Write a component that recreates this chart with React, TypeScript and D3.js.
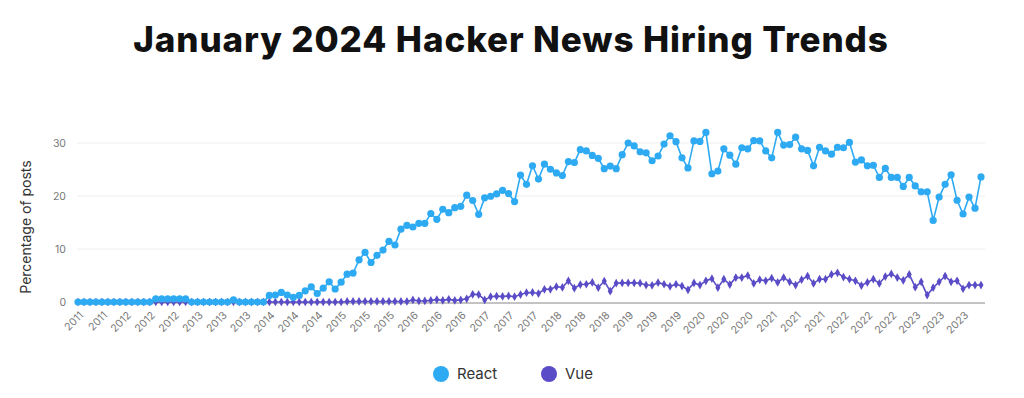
import React, { useEffect, useRef } from 'react';
import * as d3 from 'd3';

// Monthly "Who is hiring" threads, Jun 2011 .. Jan 2024
const months = d3.timeMonth.range(new Date(2011, 5, 1), new Date(2024, 1, 1));

const reactShare = [
  0, 0, 0, 0, 0, 0, 0, 0, 0, 0, 0, 0, 0,
  0.6, 0.6, 0.6, 0.6, 0.6, 0.6,
  0, 0, 0, 0, 0, 0, 0, 0.4, 0, 0, 0, 0, 0,
  1.25, 1.3, 1.8, 1.3, 0.9, 1.25, 2.1, 2.85, 1.6, 2.6,
  3.8, 2.45, 3.75, 5.25, 5.45, 7.95, 9.35, 7.45, 8.8, 9.8,
  11.45, 10.75, 13.75, 14.45, 14.15, 14.85, 14.85, 16.7, 15.6, 17.5,
  16.85, 17.8, 18.05, 20.15, 19.15, 16.55, 19.65, 19.95, 20.4, 21.05,
  20.45, 18.95, 23.95, 22.2, 25.7, 23.2, 26.0, 25.05, 24.35, 23.85,
  26.5, 26.3, 28.75, 28.5, 27.65, 27.1, 25.15, 25.65, 25.15, 27.8,
  30.0, 29.45, 28.35, 28.15, 26.65, 27.55, 29.8, 31.35, 30.25, 27.2,
  25.3, 30.4, 30.3, 32.0, 24.2, 24.7, 28.9, 27.7, 26.0, 29.1,
  28.9, 30.45, 30.4, 28.5, 27.2, 32.0, 29.6, 29.7, 31.1, 28.9,
  28.6, 25.7, 29.2, 28.5, 27.9, 29.2, 29.1, 30.1, 26.4, 26.8,
  25.7, 25.8, 23.5, 25.2, 23.5, 23.5, 21.8, 23.5, 21.9, 20.8,
  20.8, 15.4, 19.8, 22.2, 24.0, 19.2, 16.6, 19.8, 17.7, 23.6,
];

const vueShare = [
  0, 0, 0, 0, 0, 0, 0, 0, 0, 0, 0, 0, 0, 0, 0,
  0, 0, 0, 0, 0, 0, 0, 0, 0, 0, 0, 0, 0, 0, 0,
  0, 0, 0, 0, 0, 0, 0, 0, 0, 0, 0, 0, 0, 0, 0,
  0.1, 0.1, 0.1, 0.1, 0.1, 0.1, 0.1, 0.1, 0.1, 0.1, 0.1,
  0.4, 0.2, 0.2, 0.3, 0.45, 0.3, 0.5, 0.3, 0.4, 0.6,
  1.45, 1.4, 0.4, 1.0, 1.1, 1.05, 1.15, 1.0, 1.4, 1.75,
  1.8, 1.6, 2.4, 2.4, 2.9, 2.75, 4.0, 2.6, 3.3, 3.35,
  3.7, 2.7, 3.95, 2.05, 3.55, 3.6, 3.6, 3.6, 3.55, 3.2,
  3.15, 3.65, 3.35, 2.95, 3.35, 3.0, 2.3, 3.6, 3.2, 4.0,
  4.4, 2.7, 4.3, 3.3, 4.6, 4.6, 5.0, 3.5, 4.2, 4.0,
  4.5, 3.7, 4.6, 3.8, 3.2, 4.2, 4.9, 3.5, 4.3, 4.3,
  5.2, 5.5, 4.7, 4.3, 4.0, 3.1, 3.7, 4.3, 3.5, 4.8,
  5.3, 4.6, 4.1, 5.2, 2.8, 3.8, 1.3, 2.7, 3.8, 4.9,
  3.8, 4.0, 2.5, 3.2, 3.2, 3.2,
];

const yTicks = [0, 10, 20, 30];
const seriesNames = ['React', 'Vue'];
const seriesColors = ['#2eaaf3', '#5a4cc6'];

export default function App() {
  const svgRef = useRef<SVGSVGElement>(null);

  useEffect(() => {
    const width = 1024;
    const height = 398;
    const svg = d3.select(svgRef.current).attr('width', width).attr('height', height);
    svg.selectAll('*').remove();

    const font = 'Inter, "Open Sans", sans-serif';

    const x = d3.scalePoint<number>().domain(months.map((_, i) => i)).range([78, 981]);
    const y = d3.scaleLinear().domain([0, 33]).range([302, 302 - 33 * 5.3]);

    // Title
    svg.append('text').attr('x', 511).attr('y', 52).attr('text-anchor', 'middle')
      .attr('font-family', font).attr('font-weight', 800).attr('font-size', '35px')
      .attr('letter-spacing', '0.9px')
      .attr('fill', '#111').text('January 2024 Hacker News Hiring Trends');

    // Grid
    svg.append('g').selectAll('line').data(yTicks.filter(t => t > 0)).join('line')
      .attr('x1', 77).attr('x2', 985).attr('y1', d => y(d)).attr('y2', d => y(d))
      .attr('stroke', '#eeeeee').attr('stroke-width', 1);

    // Y ticks
    svg.append('g').selectAll('text').data(yTicks).join('text')
      .attr('x', 66).attr('y', d => y(d)).attr('dy', '0.35em').attr('text-anchor', 'end')
      .attr('font-family', font).attr('font-size', '10.5px').attr('fill', '#777')
      .text(d => d);

    svg.append('text').attr('transform', 'translate(31,227) rotate(-90)').attr('text-anchor', 'middle')
      .attr('font-family', font).attr('font-size', '14px').attr('fill', '#333')
      .text('Percentage of posts');

    // Baseline
    svg.append('line').attr('x1', 77).attr('x2', 985).attr('y1', y(0) + 1).attr('y2', y(0) + 1)
      .attr('stroke', '#888').attr('stroke-width', 1);

    // X tick labels, every 4th month
    const fmt = d3.timeFormat('%Y');
    svg.append('g').selectAll('text').data(months.map((d, i) => ({ d, i })).filter(o => o.i % 4 === 0)).join('text')
      .attr('transform', o => `translate(${x(o.i)! + 6},${y(0) + 14}) rotate(-45)`)
      .attr('text-anchor', 'end').attr('font-family', font).attr('font-size', '10.5px').attr('fill', '#777')
      .text(o => fmt(o.d));

    const line = d3.line<number>().x((_, i) => x(i)!).y(d => y(d));

    // Vue drawn first so React sits on top at zero
    const seriesData = [reactShare, vueShare];
    [1, 0].forEach(s => {
      const g = svg.append('g');
      g.append('path').datum(seriesData[s]).attr('d', line).attr('fill', 'none')
        .attr('stroke', seriesColors[s]).attr('stroke-width', 1.6);
      if (s === 0) {
        g.selectAll('circle').data(seriesData[s]).join('circle')
          .attr('cx', (_, i) => x(i)!).attr('cy', d => y(d)).attr('r', 3.6).attr('fill', seriesColors[s]);
      } else {
        const sym = d3.symbol().type(d3.symbolDiamond).size(22);
        g.selectAll('path.m').data(seriesData[s]).join('path').attr('class', 'm')
          .attr('transform', (d, i) => `translate(${x(i)},${y(d)})`).attr('d', sym).attr('fill', seriesColors[s]);
      }
    });

    // Legend
    const legX = [441, 549];
    seriesNames.forEach((name, i) => {
      svg.append('circle').attr('cx', legX[i]).attr('cy', 374).attr('r', 8).attr('fill', seriesColors[i]);
      svg.append('text').attr('x', legX[i] + 16).attr('y', 374).attr('dy', '0.35em')
        .attr('font-family', font).attr('font-size', '15px').attr('fill', '#333').text(name);
    });
  }, []);

  return (
    <div style={{ position: 'absolute', left: 0, top: 0 }}>
      <svg ref={svgRef} style={{ display: 'block' }} />
    </div>
  );
}
